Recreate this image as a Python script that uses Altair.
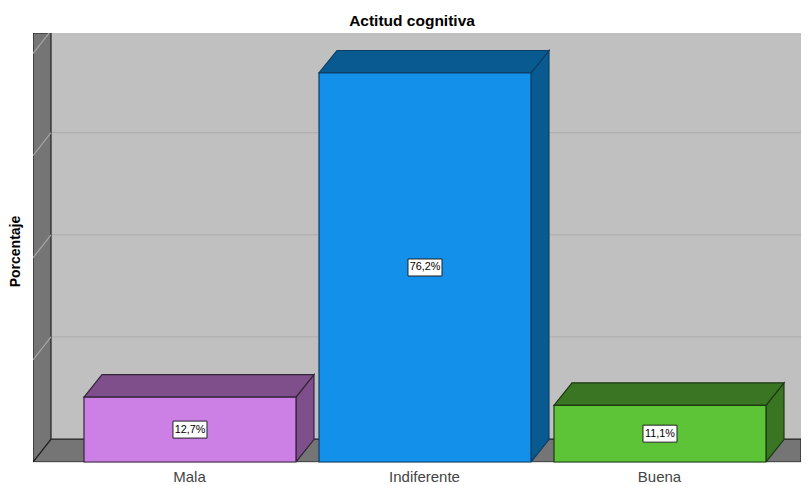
import json
import altair as alt
import pandas as pd

title = "Actitud cognitiva"
y_title = "Porcentaje"
categories = ["Mala", "Indiferente", "Buena"]
values = [12.7, 76.2, 11.1]
labels = ["12,7%", "76,2%", "11,1%"]
front_colors = ["#CC80E6", "#1290EA", "#5DC437"]
side_colors = ["#7F4F8C", "#0A5A92", "#3A7524"]
edge_colors = ["#33263A", "#0B3F66", "#1C3A12"]
grid_levels = [20, 40, 60, 80]

X_MIN, X_MAX = -0.668, 2.6
Y_MAX = 84.03
HALF = 0.451      # half bar width, in category units
DX = 0.0766       # depth of the 3D effect along x
DY = 4.4          # depth of the 3D effect along y
WALL_DY = 4.5

xs = alt.Scale(domain=[X_MIN, X_MAX], nice=False, zero=False)
ys = alt.Scale(domain=[0, Y_MAX], nice=False, zero=False)
x_axis = alt.Axis(
    values=[0, 1, 2], grid=False, domain=False, ticks=False,
    labelExpr=f"{json.dumps(categories)}[datum.value]",
    labelFont="Liberation Sans", labelFontSize=15, labelColor="#444444",
    labelPadding=7, labelOffset=-1, title=None,
)
y_axis = alt.Axis(
    grid=False, domain=False, ticks=False, labels=False, title=y_title,
    titleFont="Liberation Sans", titleFontSize=14, titleFontWeight="bold",
    titleColor="#000000", titleX=-11, titleY=218,
)


def X(f="x"):
    return alt.X(f"{f}:Q", scale=xs, axis=x_axis)


def Y(f="y"):
    return alt.Y(f"{f}:Q", scale=ys, axis=y_axis, stack=None)


Y2 = alt.Y2("y2:Q")


def poly(rows, pid, fill, stroke):
    return [dict(x=a, y=b, y2=c, pid=pid, fill=fill, stroke=stroke) for a, b, c in rows]


def faces(rows, width=1.2):
    return (
        alt.Chart(pd.DataFrame(rows))
        .mark_area(strokeWidth=width, clip=True, interpolate="linear")
        .encode(
            x=X(), y=Y(), y2=Y2, detail="pid:N",
            fill=alt.Fill("fill:N", scale=None),
            stroke=alt.Stroke("stroke:N", scale=None),
        )
    )


wall_right = X_MIN + DX
back = (
    alt.Chart(pd.DataFrame({"x": [X_MIN], "x2": [X_MAX], "y": [0.0], "y2": [Y_MAX]}))
    .mark_rect(color="#C0C0C0")
    .encode(x=X(), x2="x2:Q", y=Y(), y2="y2:Q")
)

grid = (
    alt.Chart(pd.DataFrame({"x": [wall_right] * 3, "x2": [X_MAX] * 3,
                            "y": [g + WALL_DY for g in grid_levels[:3]]}))
    .mark_rule(color="#ADADAD", strokeWidth=1)
    .encode(x=X(), x2="x2:Q", y=Y())
)

diag_rows = []
for g in grid_levels:
    diag_rows += [dict(x=X_MIN, y=g, g=g), dict(x=wall_right, y=g + WALL_DY, g=g)]
diag = (
    alt.Chart(pd.DataFrame(diag_rows))
    .mark_line(color="#A6A6A6", strokeWidth=1.2, clip=True)
    .encode(x=X(), y=Y(), detail="g:N")
)

floor_rows = poly([(X_MIN, 0, 0), (wall_right, WALL_DY, 0), (X_MAX, WALL_DY, 0)],
                  "floor", "#757575", "#222222")
wall_rows = poly([(X_MIN, Y_MAX, 0), (wall_right, Y_MAX, WALL_DY)],
                 "wall", "#757575", "#222222")

side_rows, top_rows = [], []
for i, v in enumerate(values):
    l, r = i - HALF, i + HALF
    side_rows += poly([(r, v, 0), (r + DX, v + DY, DY)], f"s{i}", side_colors[i], edge_colors[i])
    top_rows += poly([(l, v, v), (l + DX, v + DY, v), (r, v + DY, v), (r + DX, v + DY, v + DY)],
                     f"t{i}", side_colors[i], edge_colors[i])

bars_df = pd.DataFrame({
    "x": [i - HALF for i in range(3)], "x2": [i + HALF for i in range(3)],
    "y": values, "y2": [0] * 3, "fill": front_colors, "stroke": edge_colors,
    "label": labels, "mid": [i for i in range(3)], "h": [v / 2 for v in values],
})
fronts = (
    alt.Chart(bars_df)
    .mark_rect(strokeWidth=1.2)
    .encode(x=X(), x2="x2:Q", y=Y(), y2="y2:Q",
            fill=alt.Fill("fill:N", scale=None), stroke=alt.Stroke("stroke:N", scale=None))
)
boxes = (
    alt.Chart(bars_df)
    .mark_rect(width=34, height=17, fill="#FFFFFF", stroke="#222222", strokeWidth=1)
    .encode(x=X("mid"), y=Y("h"))
)
texts = (
    alt.Chart(bars_df)
    .mark_text(font="Liberation Sans", fontSize=10.8, color="#000000", baseline="middle")
    .encode(x=X("mid"), y=Y("h"), text="label:N")
)

chart = (
    alt.layer(back, grid, faces(floor_rows), faces(wall_rows), diag,
              faces(side_rows), faces(top_rows), fronts, boxes, texts)
    .properties(
        width=768, height=429,
        padding={"left": 25, "top": 25, "right": 0, "bottom": 22},
        autosize=alt.AutoSizeParams(type="none"),
        title=alt.TitleParams(title, font="Liberation Sans", fontSize=15.5, fontWeight="bold",
                              color="#000000", anchor="middle", dx=-5, offset=4),
    )
    .configure_view(stroke=None)
    .configure(background="#FFFFFF")
)
chart.save("out.html", embed_options={"renderer": "svg", "actions": False})
